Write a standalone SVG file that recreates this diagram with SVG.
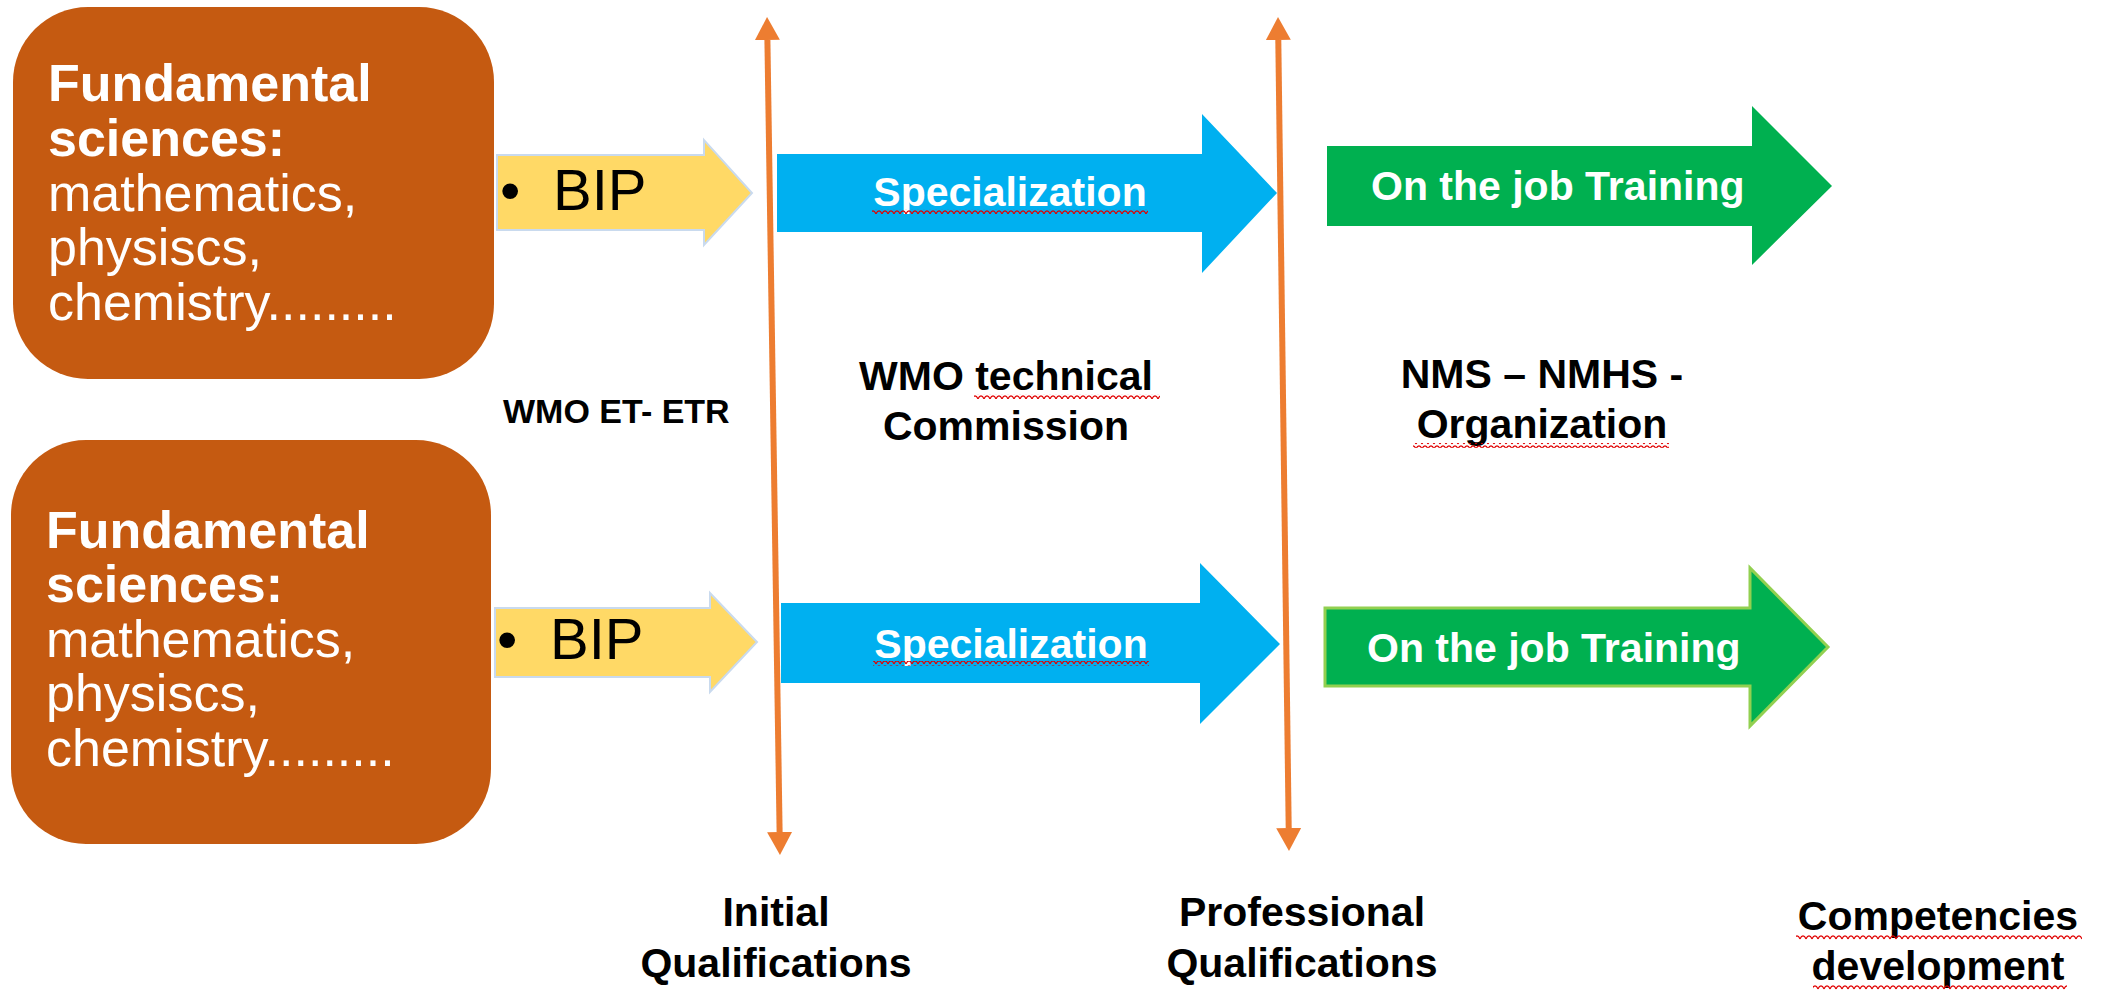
<svg xmlns="http://www.w3.org/2000/svg" width="2105" height="991" viewBox="0 0 2105 991">
  <style>
    .box { fill: #C55A11; }
    .boxt { font-family: "Liberation Sans", Arial, sans-serif; font-size: 52px; fill: #FFFFFF; }
    .b { font-weight: bold; }
    .bip { fill: #FFD966; stroke: #C9DAEE; stroke-width: 2; }
    .bipt { font-family: "Liberation Sans", Arial, sans-serif; font-size: 58px; fill: #000000; }
    .spec { fill: #00B0F0; }
    .job { fill: #00B050; }
    .job2 { fill: #00B050; stroke: #92D050; stroke-width: 3; }
    .wt { font-family: "Liberation Sans", Arial, sans-serif; font-size: 41px; font-weight: bold; fill: #FFFFFF; }
    .lbl { font-family: "Liberation Sans", Arial, sans-serif; font-size: 41px; font-weight: bold; fill: #000000; text-anchor: middle; }
    .small { font-size: 34px; text-anchor: start; }
    .axis { stroke: #ED7D31; stroke-width: 6; fill: none; marker-start: url(#ohead); marker-end: url(#ohead); }
    .sq { fill: url(#squig); }
  </style>
  <defs>
    <marker id="ohead" markerUnits="userSpaceOnUse" markerWidth="24" markerHeight="26" refX="0" refY="12.5" orient="auto-start-reverse">
      <path d="M0,0 L23,12.5 L0,25 Z" fill="#ED7D31"/>
    </marker>
    <pattern id="squig" patternUnits="userSpaceOnUse" width="6" height="5">
      <polyline points="0,4 1.5,1.5 3,1 4.5,1.5 6,4" fill="none" stroke="#E00000" stroke-width="1.2"/>
    </pattern>
  </defs>
  <rect width="2105" height="991" fill="#FFFFFF"/>

  <g id="connectors">
    <line class="axis" x1="767.4" y1="40" x2="779.6" y2="832"/>
    <line class="axis" x1="1278.3" y1="40" x2="1288.7" y2="828"/>
  </g>

  <g id="fund-top">
    <rect class="box" x="13" y="7" width="481" height="372" rx="75" ry="75"/>
    <text class="boxt b" x="48" y="101">Fundamental</text>
    <text class="boxt b" x="48" y="156">sciences:</text>
    <text class="boxt" x="48" y="211">mathematics,</text>
    <text class="boxt" x="48" y="265">physiscs,</text>
    <text class="boxt" x="48" y="320">chemistry.........</text>
  </g>
  <g id="fund-bottom">
    <rect class="box" x="11" y="440" width="480" height="404" rx="75" ry="75"/>
    <text class="boxt b" x="46" y="548">Fundamental</text>
    <text class="boxt b" x="46" y="602">sciences:</text>
    <text class="boxt" x="46" y="657">mathematics,</text>
    <text class="boxt" x="46" y="711">physiscs,</text>
    <text class="boxt" x="46" y="766">chemistry.........</text>
  </g>

  <g id="bip-top">
    <polygon class="bip" points="497,155 704,155 704,140 752,193 704,245 704,230 497,230"/>
    <text class="bipt" x="500" y="210">•</text>
    <text class="bipt" x="553" y="210">BIP</text>
  </g>
  <g id="bip-bottom">
    <polygon class="bip" points="495,608 710,608 710,593 757,642 710,692 710,677 495,677"/>
    <text class="bipt" x="497" y="659">•</text>
    <text class="bipt" x="550" y="659">BIP</text>
  </g>

  <g id="spec-top">
    <polygon class="spec" points="777,154 1202,154 1202,114 1277,193 1202,273 1202,232 777,232"/>
    <text class="wt" x="1010" y="206" text-anchor="middle">Specialization</text>
    <rect class="sq" x="872" y="209" width="276" height="5"/>
  </g>
  <g id="spec-bottom">
    <polygon class="spec" points="781,603 1200,603 1200,563 1280,644 1200,724 1200,683 781,683"/>
    <text class="wt" x="1011" y="658" text-anchor="middle">Specialization</text>
    <rect class="sq" x="873" y="661" width="276" height="5"/>
  </g>

  <g id="job-top">
    <polygon class="job" points="1327,146 1752,146 1752,106 1832,186 1752,265 1752,226 1327,226"/>
    <text class="wt" x="1371" y="200">On the job Training</text>
  </g>
  <g id="job-bottom">
    <polygon class="job2" points="1325,608 1750,608 1750,568 1828,647 1750,726 1750,686 1325,686"/>
    <text class="wt" x="1367" y="662">On the job Training</text>
  </g>

  <g id="label-wmo-et">
    <text class="lbl small" x="503" y="423">WMO ET- ETR</text>
  </g>
  <g id="label-wmo-tc">
    <text class="lbl" x="1006" y="390">WMO technical</text>
    <text class="lbl" x="1006" y="440">Commission</text>
    <rect class="sq" x="974" y="394" width="186" height="5"/>
  </g>
  <g id="label-nms">
    <text class="lbl" x="1542" y="388">NMS – NMHS -</text>
    <text class="lbl" x="1542" y="438">Organization</text>
    <rect class="sq" x="1413" y="443" width="256" height="5"/>
  </g>
  <g id="label-initial">
    <text class="lbl" x="776" y="926">Initial</text>
    <text class="lbl" x="776" y="977">Qualifications</text>
  </g>
  <g id="label-professional">
    <text class="lbl" x="1302" y="926">Professional</text>
    <text class="lbl" x="1302" y="977">Qualifications</text>
  </g>
  <g id="label-competencies">
    <text class="lbl" x="1938" y="930">Competencies</text>
    <text class="lbl" x="1938" y="980">development</text>
    <rect class="sq" x="1796" y="935" width="286" height="5"/>
    <rect class="sq" x="1813" y="985" width="254" height="5"/>
  </g>
</svg>
